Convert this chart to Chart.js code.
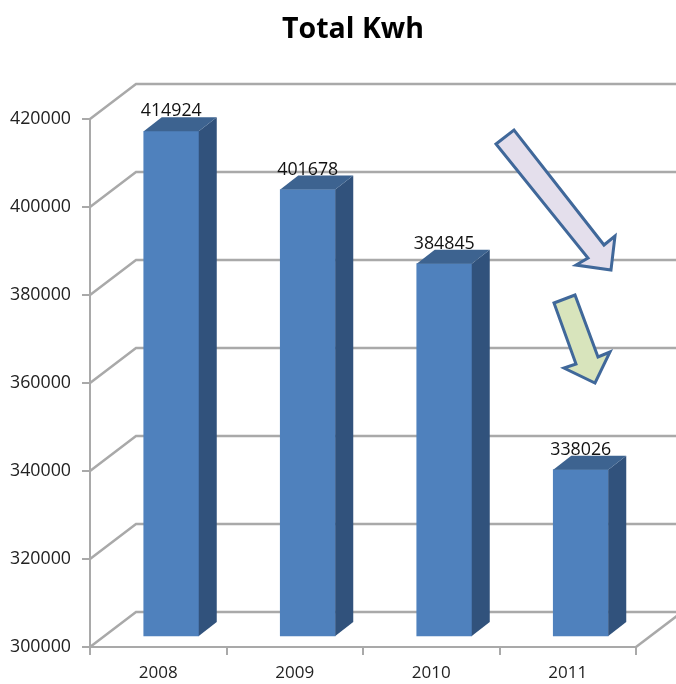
<!DOCTYPE html>
<html>
<head>
<meta charset="utf-8">
<title>Total Kwh</title>
<script src="https://cdn.jsdelivr.net/npm/chart.js@4"></script>
<style>
  html, body { margin: 0; padding: 0; background: #fff; overflow: hidden; }
  canvas { display: block; filter: blur(0.35px); }
</style>
</head>
<body>
<canvas id="chart" width="676" height="684"></canvas>
<script>
const years = ['2008', '2009', '2010', '2011'];
const totalKwh = [414924, 401678, 384845, 338026];
const yTicks = [300000, 320000, 340000, 360000, 380000, 400000, 420000];

// big arrow then small arrow, drawn over the chart as in the original
const bigArrow = [[496, 144], [514, 130], [604, 245], [615, 236], [611, 270], [576, 265], [588, 258]];
const smallArrow = [[554, 303], [575, 295], [598, 357], [610, 352], [595, 383], [564, 368], [576, 364]];

const font = '"Open Sans", sans-serif';
const gridColor = '#a9a9a9';

function drawPoly(ctx, pts, fill) {
  ctx.beginPath();
  pts.forEach((p, i) => i ? ctx.lineTo(p[0], p[1]) : ctx.moveTo(p[0], p[1]));
  ctx.closePath();
  ctx.fillStyle = fill;
  ctx.fill();
}

function drawArrow(ctx, pts, fill) {
  drawPoly(ctx, pts, fill);
  ctx.lineWidth = 3;
  ctx.strokeStyle = '#40689a';
  ctx.lineJoin = 'miter';
  ctx.stroke();
}

// fake 3D look: back wall and floor lines, bar sides and tops
const fake3d = {
  id: 'fake3d',
  afterLayout(chart) {
    // title sits left of the plot centre in the original
    chart.titleBlock.left = 70;
  },
  beforeDatasetsDraw(chart) {
    const { ctx, scales: { x, y } } = chart;
    ctx.save();
    ctx.strokeStyle = gridColor;
    ctx.lineWidth = 2.5;
    yTicks.forEach(v => {
      const py = y.getPixelForValue(v);
      ctx.beginPath();
      ctx.moveTo(x.left, py);
      ctx.lineTo(x.left + 46, py - 35);
      ctx.lineTo(chart.width, py - 35);
      ctx.stroke();
    });
    // right edge of the floor
    ctx.beginPath();
    ctx.moveTo(x.right, y.bottom);
    ctx.lineTo(x.right + 46, y.bottom - 35);
    ctx.stroke();
    ctx.restore();
  },
  beforeDatasetDraw(chart) {
    chart.ctx.save();
    chart.ctx.translate(13, -10);
  },
  afterDatasetDraw(chart, args) {
    const { ctx } = chart;
    const bars = chart.getDatasetMeta(args.index).data;
    const dx = 18, dy = -14;
    bars.forEach((bar, i) => {
      const p = bar.getProps(['x', 'y', 'base', 'width']);
      const l = p.x - p.width / 2, r = p.x + p.width / 2;
      drawPoly(ctx, [[r, p.y], [r + dx, p.y + dy], [r + dx, p.base + dy], [r, p.base]], '#31527c');
      drawPoly(ctx, [[l, p.y], [l + dx, p.y + dy], [r + dx, p.y + dy], [r, p.y]], '#3d6390');
      ctx.fillStyle = '#111';
      ctx.font = '17.8px ' + font;
      ctx.textAlign = 'center';
      ctx.textBaseline = 'middle';
      ctx.fillText(String(totalKwh[i]), p.x, p.y - 20);
    });
    ctx.restore();
  },
  afterDraw(chart) {
    drawArrow(chart.ctx, bigArrow, '#e4dfec');
    drawArrow(chart.ctx, smallArrow, '#d8e4bc');
  }
};

new Chart(document.getElementById('chart'), {
  type: 'bar',
  data: {
    labels: years,
    datasets: [{
      label: 'Total Kwh',
      data: totalKwh,
      base: yTicks[0],
      backgroundColor: '#4f81bd',
      barThickness: 55,
      clip: false
    }]
  },
  plugins: [fake3d],
  options: {
    responsive: false,
    animation: false,
    layout: { padding: { right: 40 } },
    plugins: {
      legend: { display: false },
      tooltip: { enabled: false },
      title: {
        display: true,
        text: 'Total Kwh',
        color: '#000',
        fullSize: false,
        font: { family: font, size: 28.5, weight: 'bold' },
        padding: { top: 13, bottom: 71.8 }
      }
    },
    scales: {
      x: {
        afterFit: s => { s.height = 37; },
        border: { color: gridColor, width: 2 },
        grid: { drawOnChartArea: false, color: gridColor, tickLength: 8, lineWidth: 2 },
        ticks: { color: '#222', padding: 8, font: { family: font, size: 17 } }
      },
      y: {
        min: yTicks[0],
        max: yTicks[yTicks.length - 1],
        afterFit: s => { s.width = 90; },
        afterBuildTicks: s => { s.ticks = yTicks.map(v => ({ value: v })); },
        border: { color: gridColor, width: 2 },
        grid: { drawOnChartArea: false, color: gridColor, tickLength: 8, lineWidth: 2 },
        ticks: { color: '#222', padding: 11, font: { family: font, size: 17.8 }, callback: v => String(v) }
      }
    }
  }
});
</script>
</body>
</html>
